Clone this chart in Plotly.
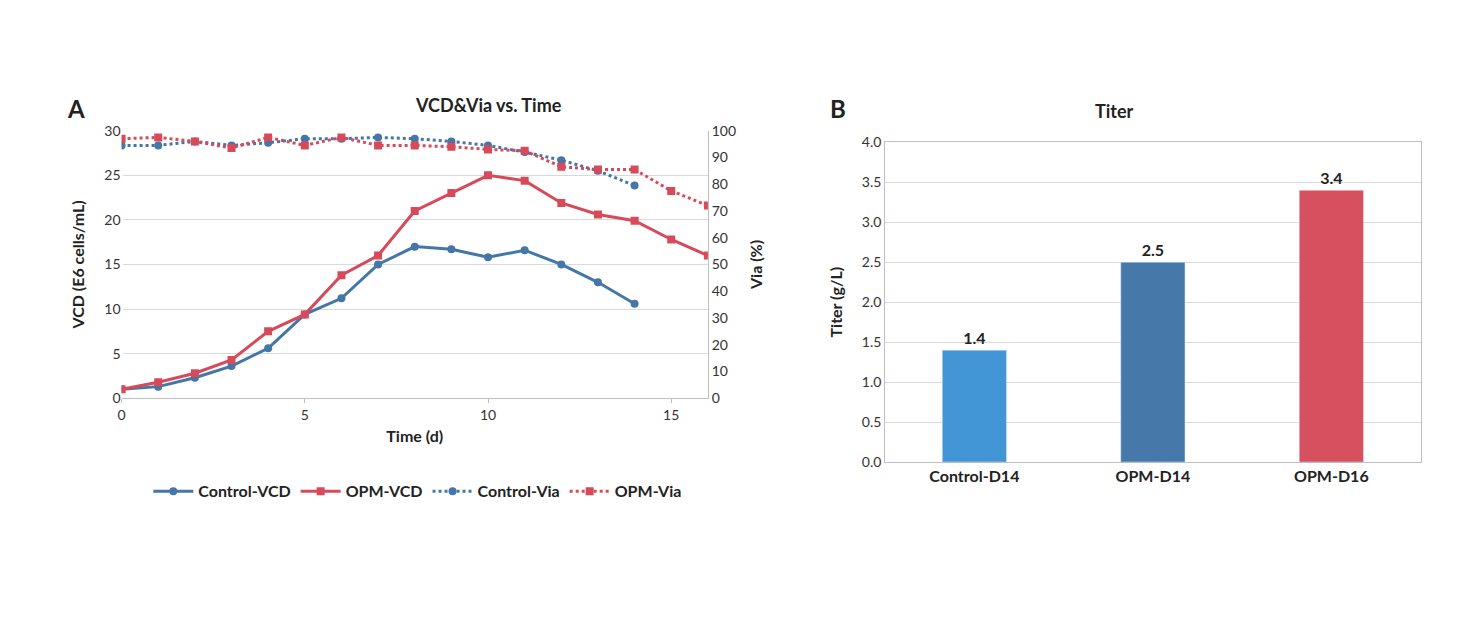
import plotly.graph_objects as go

days_ctrl = list(range(15))
days_opm = list(range(17))
ctrl_vcd = [1.0, 1.3, 2.3, 3.6, 5.6, 9.4, 11.2, 15.0, 17.0, 16.7, 15.8, 16.6, 15.0, 13.0, 10.6]
opm_vcd = [1.0, 1.8, 2.8, 4.3, 7.5, 9.4, 13.8, 16.0, 21.0, 23.0, 25.0, 24.4, 21.9, 20.6, 19.9, 17.8, 16.0]
ctrl_via = [94.5, 94.5, 96, 94.5, 95.5, 97, 97, 97.5, 97, 96, 94.5, 92, 89, 85, 79.5]
opm_via = [97, 97.5, 96, 93.5, 97.5, 94.5, 97.5, 94.5, 94.5, 94, 93, 92.5, 86.5, 85.5, 85.5, 77.5, 72]

titer_cats = ['<b>Control-D14</b>', '<b>OPM-D14</b>', '<b>OPM-D16</b>']
titer_vals = [1.4, 2.5, 3.4]
titer_colors = ['#4396d5', '#4679aa', '#d6505f']

BLUE = '#4576a8'
RED = '#d74a5a'
FONT = 'Lato'

fig = go.Figure()
fig.add_trace(go.Scatter(x=days_ctrl, y=ctrl_vcd, name='<b>Control-VCD</b>', mode='lines+markers',
                         line=dict(color=BLUE, width=3), marker=dict(symbol='circle', size=8)))
fig.add_trace(go.Scatter(x=days_opm, y=opm_vcd, name='<b>OPM-VCD</b>', mode='lines+markers',
                         line=dict(color=RED, width=3), marker=dict(symbol='square', size=8)))
fig.add_trace(go.Scatter(x=days_ctrl, y=ctrl_via, name='<b>Control-Via</b>', mode='lines+markers', yaxis='y2',
                         line=dict(color=BLUE, width=3, dash='dot'), marker=dict(symbol='circle', size=8)))
fig.add_trace(go.Scatter(x=days_opm, y=opm_via, name='<b>OPM-Via</b>', mode='lines+markers', yaxis='y2',
                         line=dict(color=RED, width=3, dash='dot'), marker=dict(symbol='square', size=8)))
fig.add_trace(go.Bar(x=titer_cats, y=titer_vals, xaxis='x3', yaxis='y3', width=0.36,
                     marker_color=titer_colors, text=[f'<b>{v:.1f}</b>' for v in titer_vals],
                     textposition='outside', textfont=dict(size=16, color='#222', family=FONT),
                     showlegend=False, cliponaxis=False))

grid = '#d9d9d9'
tick = dict(size=14, color='#333', family=FONT)
fig.update_layout(
    width=1469, height=625, margin=dict(l=0, r=0, t=0, b=0),
    plot_bgcolor='white', paper_bgcolor='white', font=dict(family=FONT, color='#222'),
    xaxis=dict(domain=[0.0748, 0.475], anchor='y', range=[0, 16], dtick=5, showgrid=False,
               showline=True, linecolor='#bfbfbf', ticks='outside', ticklen=4, tickcolor='#bfbfbf',
               tickfont=tick, title=dict(text='<b>Time (d)</b>', font=dict(size=16), standoff=8)),
    yaxis=dict(domain=[0.373, 0.813], range=[0, 30], dtick=5, gridcolor=grid, zeroline=False,
               tickfont=tick, title=dict(text='<b>VCD (E6 cells/mL)</b>', font=dict(size=16))),
    yaxis2=dict(overlaying='y', side='right', range=[0, 100], dtick=10, showgrid=False,
                showline=True, linecolor='#bfbfbf', zeroline=False, tickfont=tick,
                title=dict(text='<b>Via (%)</b>', font=dict(size=16))),
    xaxis3=dict(domain=[0.596, 0.9615], anchor='y3', showline=True, linecolor='#bfbfbf', mirror=True,
                tickfont=dict(size=16, color='#222', family=FONT)),
    yaxis3=dict(domain=[0.268, 0.794], anchor='x3', range=[0, 4], dtick=0.5, tickformat='.1f',
                gridcolor=grid, showline=True, linecolor='#bfbfbf', mirror=True, zeroline=False,
                tickfont=tick, title=dict(text='<b>Titer (g/L)</b>', font=dict(size=16))),
    legend=dict(orientation='h', x=0.277, xanchor='center', y=0.22, yanchor='middle',
                font=dict(size=16, color='#222'), itemwidth=40),
    annotations=[
        dict(text='<b>A</b>', x=0.036, y=0.876, xref='paper', yref='paper', showarrow=False, font=dict(size=24)),
        dict(text='<b>B</b>', x=0.564, y=0.876, xref='paper', yref='paper', showarrow=False, font=dict(size=24)),
        dict(text='<b>VCD&Via vs. Time</b>', x=0.274, y=0.876, xref='paper', yref='paper', showarrow=False,
             font=dict(size=18)),
        dict(text='<b>Titer</b>', x=0.767, y=0.866, xref='paper', yref='paper', showarrow=False,
             font=dict(size=18)),
    ],
)
fig.write_html('out.html')
